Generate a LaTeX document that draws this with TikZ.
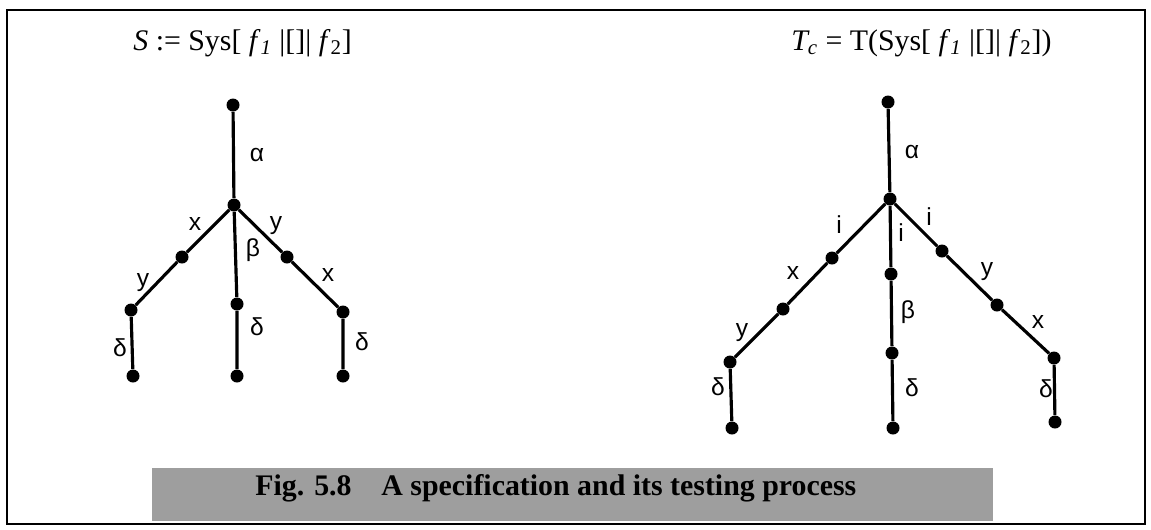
\documentclass[tikz,border=0pt]{standalone}
\usepackage{fontspec}
\setmainfont{Liberation Serif}
\newfontfamily\lblfont{Liberation Sans}
\tikzset{
	dot/.style = {circle, fill, inner sep=0pt, minimum size=7.4pt},
	lbl/.style = {inner sep=0pt, font=\lblfont\fontsize{14}{16}\selectfont},
	edge/.style = {line width=1.8pt},
	title/.style = {inner sep=0pt, anchor=base west, font=\fontsize{17}{20}\selectfont}
}
\begin{document}
\begin{tikzpicture}[x=0.02cm, y=-0.02cm]
	\useasboundingbox (0,0) rectangle (1151,529);
	\draw[line width=1.1pt] (7,10) rectangle (1145,524);
	\fill[black!38] (152,468) rectangle (993,521);
	\node[inner sep=0pt, anchor=base west, font=\bfseries\fontsize{17}{20}\selectfont] (cap) at (255,495) {Fig. 5.8\quad A specification and its testing process};

	% left tree: the specification
	\node[title] (sT) at (133,50) {\textit{S} := Sys[ \textit{f}\textsubscript{\textit{1}} \textbar[]\textbar\ \textit{f}\textsubscript{2}]};
	\node[dot] (s0) at (233,105) {};
	\node[dot] (s1) at (234,205) {};
	\node[dot] (sl1) at (182,257) {};
	\node[dot] (sl2) at (131,310) {};
	\node[dot] (sl3) at (133,376) {};
	\node[dot] (sm1) at (237,304) {};
	\node[dot] (sm2) at (237,376) {};
	\node[dot] (sr1) at (287,257) {};
	\node[dot] (sr2) at (343,312) {};
	\node[dot] (sr3) at (343,376) {};
	\draw[edge] (s0) -- (s1);
	\draw[edge] (s1) -- (sl1) -- (sl2) -- (sl3);
	\draw[edge] (s1) -- (sm1) -- (sm2);
	\draw[edge] (s1) -- (sr1) -- (sr2) -- (sr3);
	\node[lbl] (sa) at (257,155) {α};
	\node[lbl] (sx1) at (195,224) {x};
	\node[lbl] (sy1) at (276,226) {y};
	\node[lbl] (sb) at (253,250) {β};
	\node[lbl] (sy2) at (143,283) {y};
	\node[lbl] (sx2) at (328,275) {x};
	\node[lbl] (sd1) at (120,348) {δ};
	\node[lbl] (sd2) at (257,327) {δ};
	\node[lbl] (sd3) at (362,342) {δ};

	% right tree: its testing process
	\node[title] (tT) at (791,50) {\textit{T\textsubscript{c}} = T(Sys[ \textit{f}\textsubscript{\textit{1}} \textbar[]\textbar\ \textit{f}\textsubscript{2}])};
	\node[dot] (t0) at (888,102) {};
	\node[dot] (t1) at (890,199) {};
	\node[dot] (tl1) at (832,258) {};
	\node[dot] (tl2) at (783,309) {};
	\node[dot] (tl3) at (730,362) {};
	\node[dot] (tl4) at (732,428) {};
	\node[dot] (tm1) at (891,274) {};
	\node[dot] (tm2) at (892,353) {};
	\node[dot] (tm3) at (893,428) {};
	\node[dot] (tr1) at (942,251) {};
	\node[dot] (tr2) at (997,305) {};
	\node[dot] (tr3) at (1054,358) {};
	\node[dot] (tr4) at (1055,422) {};
	\draw[edge] (t0) -- (t1);
	\draw[edge] (t1) -- (tl1);
	\draw[edge] (tl1) -- (tl2) -- (tl3) -- (tl4);
	\draw[edge] (t1) -- (tm1) -- (tm2) -- (tm3);
	\draw[edge] (t1) -- (tr1) -- (tr2) -- (tr3) -- (tr4);
	\node[lbl] (ta) at (912,152) {α};
	\node[lbl] (ti1) at (839,225) {i};
	\node[lbl] (ti2) at (901,233) {i};
	\node[lbl] (ti3) at (929,217) {i};
	\node[lbl] (tx1) at (793,273) {x};
	\node[lbl] (ty1) at (987,272) {y};
	\node[lbl] (tb) at (908,312) {β};
	\node[lbl] (ty2) at (742,333) {y};
	\node[lbl] (tx2) at (1038,322) {x};
	\node[lbl] (td1) at (718,387) {δ};
	\node[lbl] (td2) at (912,388) {δ};
	\node[lbl] (td3) at (1046,389) {δ};
\end{tikzpicture}
\end{document}
